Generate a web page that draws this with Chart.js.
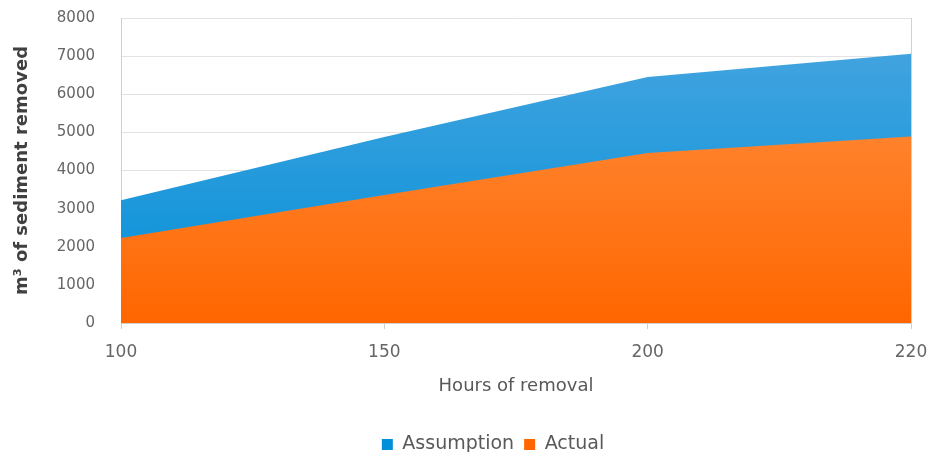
<!DOCTYPE html>
<html>
<head>
<meta charset="utf-8">
<script src="https://cdn.jsdelivr.net/npm/chart.js@4/dist/chart.umd.min.js"></script>
<style>
  body { margin: 0; background: #fff; }
  #wrap { width: 930px; height: 452px; }
</style>
</head>
<body>
<div id="wrap"><canvas id="chartSediment"></canvas></div>
<script>
// data
const hours = ['100', '150', '200', '220'];
const assumption = [3220, 4880, 6450, 7060];
const actual = [2230, 3360, 4460, 4890];

const fontFam = "'DejaVu Sans', sans-serif";
const plotBottom = 323;   // where the x axis sits
const legendDrop = 12;    // legend pushed a bit lower
const legendShift = 28;   // legend sits a bit right of the canvas centre

function vGrad(ctx, top, bottom) {
    const chart = ctx.chart;
    const area = chart.chartArea;
    if (!area) return bottom;
    const g = chart.ctx.createLinearGradient(0, area.top, 0, area.bottom);
    g.addColorStop(0, top);
    g.addColorStop(1, bottom);
    return g;
}

new Chart(document.getElementById('chartSediment'), {
    type: 'line',
    data: {
        labels: hours,
        datasets: [{
            label: 'Actual',
            data: actual,
            fill: 'origin',
            tension: 0,
            pointRadius: 0,
            borderWidth: 0,
            borderColor: 'rgba(0,0,0,0)',
            backgroundColor: ctx => vGrad(ctx, '#ff9448', '#ff6600')
        }, {
            label: 'Assumption',
            data: assumption,
            fill: 'origin',
            tension: 0,
            pointRadius: 0,
            borderWidth: 0,
            borderColor: 'rgba(0,0,0,0)',
            backgroundColor: ctx => vGrad(ctx, '#4aa6e0', '#008fd8')
        }]
    },
    plugins: [{
        id: 'nudgeLegend',
        afterLayout(chart) {
            chart.legend.left += legendShift;
            chart.legend.right += legendShift;
        }
    }],
    options: {
        responsive: true,
        maintainAspectRatio: false,
        animation: false,
        layout: { padding: { top: 18, right: 0, left: 0, bottom: -legendDrop } },
        plugins: {
            legend: {
                position: 'bottom',
                reverse: true,
                labels: {
                    boxWidth: 11,
                    boxHeight: 11,
                    padding: 10,
                    color: '#595959',
                    font: { family: fontFam, size: 19 }
                }
            },
            tooltip: { enabled: false }
        },
        scales: {
            x: {
                offset: false,
                grid: {
                    color: c => (c.index === 0 || c.index === hours.length - 1) ? '#d0d0d0' : 'rgba(0,0,0,0)',
                    tickColor: '#d0d0d0',
                    tickLength: 6
                },
                border: { color: '#d0d0d0' },
                ticks: { color: '#666', padding: 13, font: { family: fontFam, size: 17 } },
                title: {
                    display: true,
                    text: 'Hours of removal',
                    color: '#595959',
                    padding: { top: 4, bottom: 28 },
                    font: { family: fontFam, size: 18 }
                },
                afterFit: s => {
                    s.height = s.chart.height + legendDrop - s.chart.legend.height - plotBottom;
                    s.paddingLeft = 0;
                    s.paddingRight = 19;
                }
            },
            y: {
                min: 0,
                max: 8000,
                grid: { color: '#e3e3e3', drawTicks: false },
                border: { color: '#d0d0d0' },
                ticks: {
                    stepSize: 1000,
                    color: '#666',
                    padding: 26,
                    callback: v => String(v),
                    font: { family: fontFam, size: 15 }
                },
                title: {
                    display: true,
                    text: 'm³ of sediment removed',
                    color: '#404040',
                    padding: { top: 12, bottom: 0 },
                    font: { family: fontFam, size: 18, weight: 'bold' }
                },
                afterFit: s => {
                    s.width = 121;
                    s.paddingTop = 0;
                    s.paddingBottom = 0;
                }
            }
        }
    }
});
</script>
</body>
</html>
